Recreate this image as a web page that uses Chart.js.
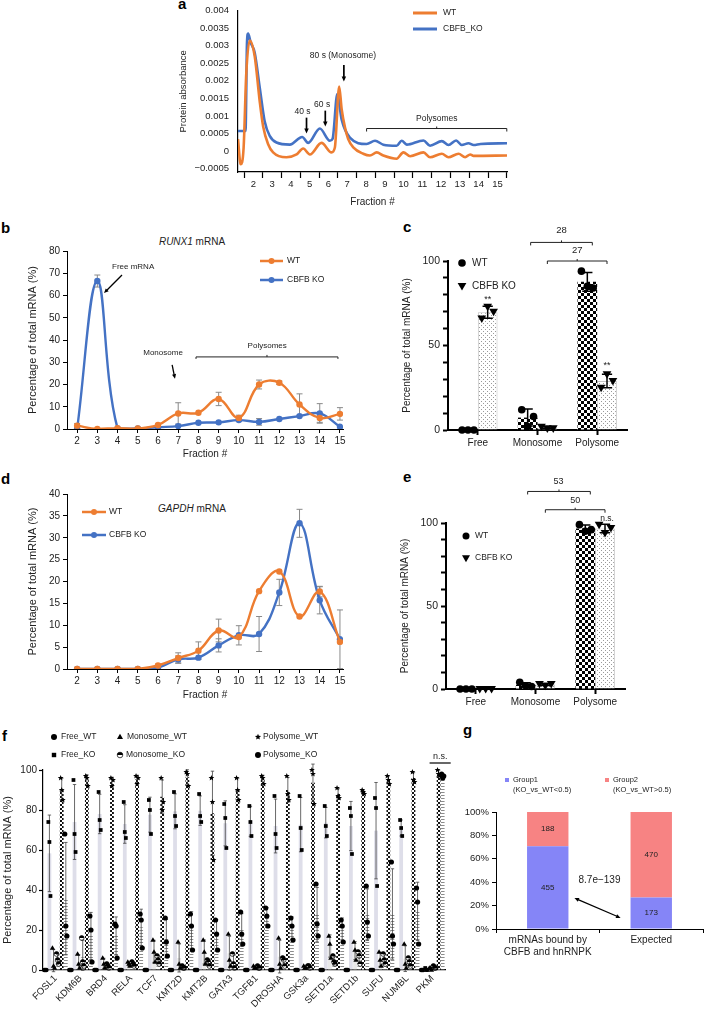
<!DOCTYPE html>
<html>
<head>
<meta charset="utf-8">
<script src="https://cdn.jsdelivr.net/npm/chart.js@4.4.1/dist/chart.umd.min.js"></script>
<style>
html, body { margin: 0; padding: 0; background: #fff; }
#fig { position: relative; width: 704px; height: 1011px; overflow: hidden; font-family: 'Liberation Sans', Arial, sans-serif; color: #222; }
#fig canvas { position: absolute; }
.lbl { position: absolute; font-weight: bold; font-size: 15px; line-height: 15px; color: #000; }
.ttl { position: absolute; width: 140px; font-size: 10px; line-height: 12px; text-align: center; }
</style>
</head>
<body>
<div id="fig">
  <div class="lbl" style="left:178px;top:-4px">a</div>
  <div class="lbl" style="left:1px;top:220px">b</div>
  <div class="lbl" style="left:403px;top:219px">c</div>
  <div class="lbl" style="left:1px;top:471px">d</div>
  <div class="lbl" style="left:403px;top:469px">e</div>
  <div class="lbl" style="left:2px;top:728px">f</div>
  <div class="lbl" style="left:463px;top:722px">g</div>
  <div class="ttl" style="left:122px;top:236px"><i>RUNX1</i> mRNA</div>
  <div class="ttl" style="left:122px;top:503px"><i>GAPDH</i> mRNA</div>
</div>
<script>
// ---- a: polysome profile (fraction #, absorbance) ----
const aWtX = [1.18, 1.32, 1.48, 1.62, 1.80, 2.07, 2.34, 2.52, 2.78, 3.05, 3.76, 4.30, 4.65, 5.01, 5.63, 6.16, 6.34, 6.57, 6.70, 6.88, 7.05, 7.32, 7.85, 8.21, 8.57, 8.92, 9.63, 9.99, 10.35, 11.06, 11.41, 12.04, 12.39, 12.93, 13.28, 13.55, 13.73, 15.51];
const aWtY = [0.00034, -0.00038, 0.0001, 0.0022, 0.00315, 0.0027, 0.0014, 0.0007, 0.0002, -0.00004, -0.00018, -0.0001, 0.00007, -0.0001, 0.00023, -0.00004, 0.0001, 0.00184, 0.0012, 0.00067, 0.00034, 0.0001, -0.00008, -0.00013, -0.00004, -0.00013, -0.00022, -0.00004, -0.00015, -0.00004, -0.00018, -0.00008, -0.00018, -0.00008, -0.00018, -0.0001, -0.00014, -0.00013];
const aKoX = [1.18, 1.58, 1.66, 1.72, 1.85, 2.07, 2.34, 2.60, 2.87, 3.23, 3.94, 4.60, 4.92, 5.54, 6.07, 6.22, 6.47, 6.70, 7.14, 8.03, 8.48, 8.92, 9.63, 9.90, 10.17, 11.06, 11.41, 12.04, 12.39, 12.80, 13.10, 13.46, 13.73, 14.10, 15.51];
const aKoY = [0.00057, 0.00057, 0.0031, 0.00335, 0.0031, 0.0028, 0.0018, 0.00085, 0.00043, 0.00024, 0.00018, 0.0004, 0.00023, 0.00064, 0.00029, 0.00035, 0.00162, 0.0009, 0.00038, 0.0002, 0.00029, 0.00018, 0.00015, 0.00029, 0.00018, 0.0003, 0.00015, 0.00028, 0.00017, 0.0003, 0.00017, 0.00022, 0.00017, 0.0002, 0.00022];
const aFracLabels = [2, 3, 4, 5, 6, 7, 8, 9, 10, 11, 12, 13, 14, 15];
const aFracBounds = [1.5, 2.5, 3.5, 4.5, 5.5, 6.5, 7.5, 8.5, 9.5, 10.5, 11.5, 12.5, 13.5, 14.5, 15.5];
const aYTicks = [-0.0005, 0, 0.0005, 0.001, 0.0015, 0.002, 0.0025, 0.003, 0.0035, 0.004];

// ---- b / d: mRNA per fraction ----
const fractions = [2, 3, 4, 5, 6, 7, 8, 9, 10, 11, 12, 13, 14, 15];
const bWT    = [1.5, 0, 0.4, 0.2, 1.8, 7, 7.3, 13.5, 5, 20, 20.8, 11, 5, 6.8];
const bWTerr = [1, 0, 0, 0, 0.5, 4.8, 0, 3, 1.2, 2, 0.8, 4.8, 2, 2.8];
const bKO    = [0, 66.5, 0.3, 0.2, 0.8, 1.3, 2.8, 3, 4, 3.2, 4.5, 5.8, 7, 1];
const bKOerr = [0, 2.7, 0, 0, 0, 0, 0, 0, 0.5, 1.5, 0, 0, 4.4, 0];
const dWT    = [0, 0, 0, 0, 0.8, 2.5, 4.2, 8.8, 7.3, 17.8, 22.3, 12, 17.7, 6.2];
const dWTerr = [0, 0, 0, 0, 0.3, 1.2, 2, 2.6, 0, 0, 0, 0, 1.2, 0];
const dKO    = [0, 0, 0, 0, 0.3, 2.2, 2.6, 5.4, 7.7, 8, 17.5, 33.3, 15.7, 6.8];
const dKOerr = [0, 0, 0, 0, 0, 0.8, 0, 1.5, 2.2, 4, 3, 3.2, 3.1, 6.7];

// ---- c / e: replicates per compartment ----
const ceCats = ['Free', 'Monosome', 'Polysome'];
const cWTreps = [[0, 0, 0], [12, 2, 8], [94, 85, 84]];
const cKOreps = [[66, 73, 70], [2, 1, 1], [25, 33, 29]];
const eWTreps = [[0, 0, 0], [4, 2, 1.5], [99, 95, 96]];
const eKOreps = [[0, 0, 0], [3, 2, 3], [99, 94, 97]];
const ceYTicks = [0, 10, 20, 30, 40, 50, 60, 70, 80, 90, 100];

// ---- f: per-gene replicates ----
const fGenes = ['FOSL1', 'KDM6B', 'BRD4', 'RELA', 'TCF7', 'KMT2D', 'KMT2B', 'GATA3', 'TGFB1', 'DROSHA', 'GSK3a', 'SETD1a', 'SETD1b', 'SUFU', 'NUMBL', 'PKM'];
const fFreeWT = [[0,0,0],[0,0,0],[0,0,0],[0,0,0],[0,0,0],[0,0,0],[0,0,0],[0,0,0],[0,0,0],[0,0,0],[0,0,0],[0,0,0],[0,0,0],[0,0,0],[0,0,0],[0,0,0]];
const fFreeKO = [[74,64,37],[95,68,59],[89,75,70],[84,69,66],[85,80,68],[89,77,72],[88,77,74],[83,76,61],[82,74,67],[87,68,61],[87,71,60],[82,72,67],[81,77,58],[86,81,42],[75,71,67],[1,0,0]];
const fMonoWT = [[11,2,1],[8,3,1],[6,3,1],[4,3,2],[15,9,4],[14,3,1],[15,9,3],[18,5,2],[2,1,1],[16,3,1],[2,1,1],[17,13,6],[14,10,5],[9,5,2],[13,3,1],[1,1,0]];
const fMonoKO = [[8,5,3],[16,4,2],[3,2,1],[4,3,2],[7,5,3],[2,1,1],[5,4,2],[8,3,1],[2,1,1],[6,5,2],[2,2,1],[7,4,3],[9,7,3],[8,5,3],[6,4,2],[2,1,1]];
const fPolyWT = [[96,90,85],[97,96,92],[96,92,95],[97,93,96],[96,80,84],[99,98,92],[96,84,55],[96,90,85],[97,96,93],[97,88,85],[100,98,83],[91,87,86],[90,89,88],[97,95,93],[99,95,94],[100,98,97]];
const fPolyKO = [[68,22,17],[27,20,4],[23,22,6],[28,25,11],[26,14,7],[28,22,10],[25,18,10],[29,18,13],[31,27,22],[26,22,15],[43,23,17],[25,22,14],[42,24,17],[54,17,13],[41,34,13],[98,96,97]];

// ---- g: counts ----
const gCats = [['mRNAs bound by', 'CBFB and hnRNPK'], 'Expected'];
const gGroup1 = [455, 173];
const gGroup2 = [188, 470];
const gPvalue = '8.7e\u2212139';

const FONT = "'Liberation Sans', Arial, Helvetica, sans-serif";
const ORANGE = '#ed7d31';
const BLUE = '#4472c4';
Chart.defaults.font.family = FONT;
Chart.defaults.color = '#222';
Chart.defaults.animation = false;
Chart.defaults.responsive = false;
Chart.defaults.events = [];
Chart.defaults.plugins.legend.display = false;
Chart.defaults.plugins.tooltip.enabled = false;

const fig = document.getElementById('fig');
function makeCanvas(left, top, w, h) {
  const c = document.createElement('canvas');
  c.width = w; c.height = h;
  c.style.left = left + 'px'; c.style.top = top + 'px';
  c.style.width = w + 'px'; c.style.height = h + 'px';
  fig.appendChild(c);
  return c;
}

const mean = a => a.reduce((s, v) => s + v, 0) / a.length;
const sd = a => { const m = mean(a); return Math.sqrt(a.reduce((s, v) => s + (v - m) * (v - m), 0) / (a.length - 1)); };

function pattern(w, h, draw) {
  const c = document.createElement('canvas');
  c.width = w; c.height = h;
  const g = c.getContext('2d');
  draw(g);
  return g.createPattern(c, 'repeat');
}
const checker = pattern(6, 6, g => { g.fillStyle = '#fff'; g.fillRect(0, 0, 6, 6); g.fillStyle = '#000'; g.fillRect(0, 0, 3, 3); g.fillRect(3, 3, 3, 3); });
const checkerFine = pattern(4, 4, g => { g.fillStyle = '#fff'; g.fillRect(0, 0, 4, 4); g.fillStyle = '#111'; g.fillRect(0, 0, 2, 2); g.fillRect(2, 2, 2, 2); });
const dots = pattern(4, 4, g => { g.fillStyle = '#fff'; g.fillRect(0, 0, 4, 4); g.fillStyle = '#9a9a9a'; g.fillRect(0, 0, 1, 1); g.fillRect(2, 2, 1, 1); });
const stripes = pattern(4, 3, g => { g.fillStyle = '#fff'; g.fillRect(0, 0, 4, 3); g.fillStyle = '#8c8c8c'; g.fillRect(0, 0, 4, 1); });
const stripesLight = pattern(4, 3, g => { g.fillStyle = '#fff'; g.fillRect(0, 0, 4, 3); g.fillStyle = '#b5b5b5'; g.fillRect(0, 0, 4, 1); });

// ---- drawing helpers ----
function txt(ctx, s, x, y, size, align, italic) {
  ctx.save();
  ctx.font = (italic ? 'italic ' : '') + size + 'px ' + FONT;
  ctx.fillStyle = '#222';
  ctx.textAlign = align || 'center';
  ctx.textBaseline = 'middle';
  ctx.fillText(s, x, y);
  ctx.restore();
}
function arrow(ctx, x1, y1, x2, y2, w, head, both) {
  ctx.save();
  ctx.strokeStyle = ctx.fillStyle = '#000';
  ctx.lineWidth = w;
  const a = Math.atan2(y2 - y1, x2 - x1);
  const k = head * 0.8;
  ctx.beginPath();
  ctx.moveTo(x1 + (both ? Math.cos(a) * k : 0), y1 + (both ? Math.sin(a) * k : 0));
  ctx.lineTo(x2 - Math.cos(a) * k, y2 - Math.sin(a) * k);
  ctx.stroke();
  const tip = (x, y, ang) => {
    ctx.beginPath();
    ctx.moveTo(x, y);
    ctx.lineTo(x - head * Math.cos(ang - 0.42), y - head * Math.sin(ang - 0.42));
    ctx.lineTo(x - head * Math.cos(ang + 0.42), y - head * Math.sin(ang + 0.42));
    ctx.closePath();
    ctx.fill();
  };
  tip(x2, y2, a);
  if (both) tip(x1, y1, a + Math.PI);
  ctx.restore();
}
function bracket(ctx, x1, x2, y, down, up) {
  ctx.save();
  ctx.strokeStyle = '#222';
  ctx.lineWidth = 1;
  ctx.beginPath();
  ctx.moveTo(x1, y + down); ctx.lineTo(x1, y); ctx.lineTo(x2, y); ctx.lineTo(x2, y + down);
  if (up) { const m = (x1 + x2) / 2; ctx.moveTo(m, y); ctx.lineTo(m, y - up); }
  ctx.stroke();
  ctx.restore();
}
function marker(ctx, style, x, y, r, color) {
  ctx.save();
  ctx.fillStyle = ctx.strokeStyle = color || '#000';
  ctx.beginPath();
  if (style === 'rect') {
    ctx.rect(x - r * 0.85, y - r * 0.85, r * 1.7, r * 1.7);
    ctx.fill();
  } else if (style === 'triangle') {
    ctx.moveTo(x, y - r); ctx.lineTo(x + r * 0.95, y + r * 0.65); ctx.lineTo(x - r * 0.95, y + r * 0.65); ctx.closePath();
    ctx.fill();
  } else if (style === 'down') {
    ctx.moveTo(x, y + r); ctx.lineTo(x + r * 0.95, y - r * 0.65); ctx.lineTo(x - r * 0.95, y - r * 0.65); ctx.closePath();
    ctx.fill();
  } else if (style === 'star') {
    for (let k = 0; k < 10; k++) {
      const rr = k % 2 ? r * 0.45 : r;
      const ang = -Math.PI / 2 + k * Math.PI / 5;
      ctx.lineTo(x + rr * Math.cos(ang), y + rr * Math.sin(ang));
    }
    ctx.closePath();
    ctx.fill();
  } else if (style === 'half') {
    ctx.arc(x, y, r, Math.PI, 0); ctx.closePath(); ctx.fill();
    ctx.beginPath(); ctx.lineWidth = 0.7; ctx.arc(x, y, r, 0, Math.PI * 2); ctx.stroke();
  } else {
    ctx.arc(x, y, r, 0, Math.PI * 2);
    ctx.fill();
  }
  ctx.restore();
}
function errBar(ctx, x, yTop, yBot, cap, color, w) {
  ctx.save();
  ctx.strokeStyle = color; ctx.lineWidth = w;
  ctx.beginPath();
  ctx.moveTo(x, yTop); ctx.lineTo(x, yBot);
  ctx.moveTo(x - cap, yTop); ctx.lineTo(x + cap, yTop);
  ctx.moveTo(x - cap, yBot); ctx.lineTo(x + cap, yBot);
  ctx.stroke();
  ctx.restore();
}

// legend drawn at page positions (converted to canvas coordinates)
function legendPlugin(items) {
  return {
    id: 'pageLegend',
    afterDraw(chart) {
      const ctx = chart.ctx, ox = chart.canvas.offsetLeft, oy = chart.canvas.offsetTop;
      items.forEach(it => {
        const x = it.x - ox, y = it.y - oy;
        if (it.line) {
          ctx.save(); ctx.strokeStyle = it.color; ctx.lineWidth = it.lw || 2.5;
          ctx.beginPath(); ctx.moveTo(x, y); ctx.lineTo(x + it.line, y); ctx.stroke(); ctx.restore();
          if (it.dot) marker(ctx, 'circle', x + it.line / 2, y, it.dot, it.color);
        }
        if (it.mk) marker(ctx, it.mk, x, y, it.r, it.color || '#000');
        if (it.box) { ctx.save(); ctx.fillStyle = it.color; ctx.fillRect(x - it.box / 2, y - it.box / 2, it.box, it.box); ctx.restore(); }
        (Array.isArray(it.text) ? it.text : [it.text]).forEach((t, k) => txt(ctx, t, it.tx - ox, y + k * (it.size + 2), it.size, 'left'));
      });
    }
  };
}

// error bars for line charts (drawn under the lines)
const lineErr = {
  id: 'lineErr',
  beforeDatasetsDraw(chart) {
    const { ctx, scales: { x, y } } = chart;
    chart.data.datasets.forEach(ds => {
      if (!ds.err) return;
      ds.data.forEach((p, i) => {
        const e = ds.err[i];
        if (!e) return;
        errBar(ctx, x.getPixelForValue(p.x), y.getPixelForValue(p.y + e), y.getPixelForValue(Math.max(p.y - e, 0)), 3, '#8a8a8a', 1);
      });
    });
  }
};

// replicate symbols + SD bars over bar elements
const barReps = {
  id: 'barReps',
  afterDatasetsDraw(chart) {
    const { ctx } = chart;
    const ys = chart.scales.y;
    chart.data.datasets.forEach((ds, di) => {
      if (!ds.reps) return;
      chart.getDatasetMeta(di).data.forEach((el, i) => {
        const r = ds.reps[i], m = mean(r), s = sd(r);
        if (s > 0.01) errBar(ctx, el.x, ys.getPixelForValue(m + s), ys.getPixelForValue(m - s), el.width * ds.capFrac, ds.errColor, ds.errWidth);
        r.forEach((v, k) => marker(ctx, ds.mk, el.x + (k - (r.length - 1) / 2) * el.width * ds.spread, ys.getPixelForValue(v), ds.mr, '#000'));
      });
    });
  }
};

function yAxis(o) {
  const ax = {
    min: o.min, max: o.max,
    ticks: { stepSize: o.step, font: { size: o.font }, color: '#222', padding: o.pad || 3, autoSkip: false, callback: o.cb },
    grid: { drawOnChartArea: false, tickLength: o.tick, tickColor: o.tickColor || '#000', tickWidth: o.bw || 1 },
    border: { color: '#000', width: o.bw || 1 },
    title: o.title ? { display: true, text: o.title, font: { size: o.tfont }, color: '#222', padding: { top: o.tpad, bottom: 0 } } : { display: false },
    afterFit: s => { s.width = o.width; }
  };
  if (o.ticksList) ax.afterBuildTicks = s => { s.ticks = o.ticksList.map(v => ({ value: v })); };
  return ax;
}
const fmtA = v => {
  const s = Math.abs(v).toFixed(4).replace(/0+$/, '').replace(/\.$/, '');
  return v < 0 ? '\u2212' + s : s;
};

// ================= a =================
new Chart(makeCanvas(170, 0, 360, 210), {
  type: 'line',
  data: {
    datasets: [
      { data: aWtX.map((x, i) => ({ x, y: aWtY[i] })), borderColor: ORANGE, borderWidth: 2.6, pointRadius: 0, cubicInterpolationMode: 'monotone' },
      { data: aKoX.map((x, i) => ({ x, y: aKoY[i] })), borderColor: BLUE, borderWidth: 2.6, pointRadius: 0, cubicInterpolationMode: 'monotone' }
    ]
  },
  options: {
    devicePixelRatio: 1,
    layout: { padding: { top: 8, right: 23, left: 0, bottom: 0 } },
    scales: {
      x: {
        type: 'linear', min: 1.18, max: 15.51,
        afterBuildTicks: s => { s.ticks = aFracLabels.concat(aFracBounds).sort((p, q) => p - q).map(v => ({ value: v })); },
        ticks: { autoSkip: false, maxRotation: 0, font: { size: 9.5 }, color: '#222', padding: 1, callback: v => Number.isInteger(v) ? String(v) : '' },
        grid: { drawOnChartArea: false, tickLength: 6, tickWidth: 1.2, tickColor: c => (c.tick && Number.isInteger(c.tick.value)) ? 'rgba(0,0,0,0)' : '#000' },
        border: { color: '#000', width: 1.2 },
        title: { display: true, text: 'Fraction #', font: { size: 10 }, color: '#222', padding: { top: 0, bottom: 2 } },
        afterFit: s => { s.height = 38; }
      },
      y: yAxis({ min: -0.0006, max: 0.004, ticksList: aYTicks, font: 9.5, tick: 4, tickColor: 'rgba(0,0,0,0)', pad: 5, cb: fmtA, title: 'Protein absorbance', tfont: 9.5, tpad: 7.3, width: 68, bw: 1.2 })
    }
  },
  plugins: [
    {
      id: 'annA',
      afterDatasetsDraw(chart) {
        const { ctx, scales: { x, y } } = chart;
        const X = v => x.getPixelForValue(v), Y = v => y.getPixelForValue(v);
        txt(ctx, '80 s (Monosome)', X(6.77), Y(0.00271), 8.5);
        arrow(ctx, X(6.82), Y(0.00245), X(6.82), Y(0.00198), 1.7, 5.5);
        txt(ctx, '40 s', X(4.62), Y(0.00113), 8.5);
        arrow(ctx, X(4.83), Y(0.00095), X(4.83), Y(0.0005), 1.7, 5.5);
        txt(ctx, '60 s', X(5.66), Y(0.00132), 8.5);
        arrow(ctx, X(5.83), Y(0.00115), X(5.83), Y(0.0007), 1.7, 5.5);
        txt(ctx, 'Polysomes', X(11.77), Y(0.00091), 8.5);
        bracket(ctx, X(8.03), X(15.5), Y(0.00064), 3, 2);
      }
    },
    legendPlugin([
      { x: 413, y: 13, line: 24, color: ORANGE, lw: 3, text: 'WT', tx: 443, size: 8.5 },
      { x: 413, y: 29, line: 24, color: BLUE, lw: 3, text: 'CBFB_KO', tx: 443, size: 8.5 }
    ])
  ]
});

// ================= b / d =================
function fractionChart(canvas, wt, wtErr, ko, koErr, yMax, yStep, padTop, xHeight, ann, legendItems) {
  return new Chart(canvas, {
    type: 'line',
    data: {
      datasets: [
        { data: fractions.map((x, i) => ({ x, y: wt[i] })), err: wtErr, borderColor: ORANGE, backgroundColor: ORANGE, borderWidth: 2.4, pointRadius: 3.2, pointBorderWidth: 0, tension: 0.4 },
        { data: fractions.map((x, i) => ({ x, y: ko[i] })), err: koErr, borderColor: BLUE, backgroundColor: BLUE, borderWidth: 2.4, pointRadius: 3.2, pointBorderWidth: 0, tension: 0.4 }
      ]
    },
    options: {
      devicePixelRatio: 1,
      layout: { padding: { top: padTop, right: 19, left: 0, bottom: 0 } },
      scales: {
        x: {
          type: 'linear', min: 1.5, max: 15.15,
          afterBuildTicks: s => { s.ticks = fractions.map(v => ({ value: v })); },
          ticks: { autoSkip: false, maxRotation: 0, font: { size: 10 }, color: '#222', padding: 2 },
          grid: { drawOnChartArea: false, tickLength: 4, tickColor: '#000' },
          border: { color: '#000', width: 1 },
          title: { display: true, text: 'Fraction #', font: { size: 10 }, color: '#222', padding: { top: 0, bottom: 2 } },
          afterFit: s => { s.height = xHeight; }
        },
        y: yAxis({ min: 0, max: yMax, step: yStep, font: 10, tick: 4, pad: 3, title: 'Percentage of total mRNA (%)', tfont: 11, tpad: 4.4, width: 45 })
      }
    },
    plugins: [lineErr, ann, legendPlugin(legendItems)]
  });
}

fractionChart(makeCanvas(22, 230, 340, 232), bWT, bWTerr, bKO, bKOerr, 80, 10, 21, 33, {
  id: 'annB',
  afterDatasetsDraw(chart) {
    const { ctx, scales: { x, y } } = chart;
    const X = v => x.getPixelForValue(v), Y = v => y.getPixelForValue(v);
    txt(ctx, 'Free mRNA', X(4.77), Y(72.8), 8);
    arrow(ctx, X(4.22), Y(69.2), X(3.33), Y(61.1), 1.3, 5);
    txt(ctx, 'Monosome', X(6.25), Y(34.2), 8);
    arrow(ctx, X(6.7), Y(28.8), X(6.84), Y(22.6), 1.3, 5);
    txt(ctx, 'Polysomes', X(11.4), Y(37.6), 8);
    bracket(ctx, X(7.88), X(14.9), Y(32.4), 2, 2);
  }
}, [
  { x: 260, y: 261, line: 23, dot: 3, color: ORANGE, text: 'WT', tx: 287, size: 8.5 },
  { x: 260, y: 280, line: 23, dot: 3, color: BLUE, text: 'CBFB KO', tx: 287, size: 8.5 }
]);

fractionChart(makeCanvas(22, 470, 340, 233), dWT, dWTerr, dKO, dKOerr, 40, 5, 24, 34, { id: 'annD' }, [
  { x: 82, y: 512, line: 24, dot: 3, color: ORANGE, text: 'WT', tx: 109, size: 8.5 },
  { x: 82, y: 535, line: 24, dot: 3, color: BLUE, text: 'CBFB KO', tx: 109, size: 8.5 }
]);

// ================= c / e =================
function compChart(canvas, wtReps, koReps, padTop, xHeight, ann, legendItems) {
  return new Chart(canvas, {
    type: 'bar',
    data: {
      labels: ceCats,
      datasets: [
        { data: wtReps.map(mean), reps: wtReps, backgroundColor: checker, borderWidth: 0, mk: 'circle', mr: 3.8, spread: 0.3, capFrac: 0.26, errColor: '#000', errWidth: 1.5 },
        { data: koReps.map(mean), reps: koReps, backgroundColor: dots, borderColor: '#c4c4c4', borderWidth: 1, mk: 'down', mr: 4.6, spread: 0.3, capFrac: 0.26, errColor: '#000', errWidth: 1.5 }
      ]
    },
    options: {
      devicePixelRatio: 1,
      layout: { padding: { top: padTop, right: 18, left: 0, bottom: 0 } },
      datasets: { bar: { categoryPercentage: 0.66, barPercentage: 1 } },
      scales: {
        x: {
          ticks: { font: { size: 10 }, color: '#222', padding: 2, maxRotation: 0, autoSkip: false },
          grid: { drawOnChartArea: false, offset: false, tickLength: 5, tickWidth: 2, tickColor: '#000' },
          border: { color: '#000', width: 2 },
          afterFit: s => { s.height = xHeight; }
        },
        y: yAxis({ min: 0, max: 100, ticksList: ceYTicks, font: 10.5, tick: 5, pad: 3, bw: 2, cb: v => (v % 50 === 0 ? String(v) : ''), title: 'Percentage of total mRNA (%)', tfont: 10, tpad: 6, width: 53 })
      }
    },
    plugins: [barReps, ann, legendPlugin(legendItems)]
  });
}

compChart(makeCanvas(395, 215, 250, 240), cWTreps, cKOreps, 46, 25, {
  id: 'annC',
  afterDatasetsDraw(chart) {
    const { ctx } = chart, ys = chart.scales.y;
    const wt = chart.getDatasetMeta(0).data, ko = chart.getDatasetMeta(1).data;
    bracket(ctx, wt[1].x + 3, wt[2].x + 5, ys.getPixelForValue(111), 3, 2);
    txt(ctx, '28', (wt[1].x + wt[2].x) / 2 + 4, ys.getPixelForValue(118), 9.5);
    bracket(ctx, ko[1].x, ko[2].x, ys.getPixelForValue(100), 3, 2);
    txt(ctx, '27', (ko[1].x + ko[2].x) / 2, ys.getPixelForValue(106), 9.5);
    txt(ctx, '**', ko[0].x, ys.getPixelForValue(77.5), 9);
    txt(ctx, '**', ko[2].x, ys.getPixelForValue(38), 9);
  }
}, [
  { x: 462, y: 263, mk: 'circle', r: 3.8, text: 'WT', tx: 472, size: 10 },
  { x: 462, y: 286, mk: 'down', r: 4.6, text: 'CBFB KO', tx: 472, size: 10 }
]);

compChart(makeCanvas(393, 470, 250, 246), eWTreps, eKOreps, 53, 27, {
  id: 'annE',
  afterDatasetsDraw(chart) {
    const { ctx } = chart, ys = chart.scales.y;
    const wt = chart.getDatasetMeta(0).data, ko = chart.getDatasetMeta(1).data;
    bracket(ctx, wt[1].x + 2, wt[2].x + 5, ys.getPixelForValue(119), 3, 2);
    txt(ctx, '53', (wt[1].x + wt[2].x) / 2 + 3, ys.getPixelForValue(125), 9);
    bracket(ctx, ko[1].x, ko[2].x, ys.getPixelForValue(108), 3, 2);
    txt(ctx, '50', (ko[1].x + ko[2].x) / 2, ys.getPixelForValue(113.5), 9);
    txt(ctx, 'n.s.', ko[2].x + 2, ys.getPixelForValue(102.5), 8.5);
  }
}, [
  { x: 466, y: 536, mk: 'circle', r: 3.5, text: 'WT', tx: 475, size: 8.5 },
  { x: 466, y: 558, mk: 'down', r: 4.2, text: 'CBFB KO', tx: 475, size: 8.5 }
]);

// ================= f =================
const fStyle = { capFrac: 0.45, errColor: '#444', errWidth: 0.8, spread: 0.28, borderWidth: 0 };
new Chart(makeCanvas(0, 720, 460, 291), {
  type: 'bar',
  data: {
    labels: fGenes,
    datasets: [
      Object.assign({ data: fFreeWT.map(mean), reps: fFreeWT, backgroundColor: '#f0f0f4', mk: 'circle', mr: 2.3 }, fStyle),
      Object.assign({ data: fFreeKO.map(mean), reps: fFreeKO, backgroundColor: '#dedee9', mk: 'rect', mr: 2.2 }, fStyle),
      Object.assign({ data: fMonoWT.map(mean), reps: fMonoWT, backgroundColor: '#e8e8e8', mk: 'triangle', mr: 2.8 }, fStyle),
      Object.assign({ data: fMonoKO.map(mean), reps: fMonoKO, backgroundColor: stripesLight, mk: 'half', mr: 2.4 }, fStyle),
      Object.assign({ data: fPolyWT.map(mean), reps: fPolyWT, backgroundColor: checkerFine, mk: 'star', mr: 3 }, fStyle),
      Object.assign({ data: fPolyKO.map(mean), reps: fPolyKO, backgroundColor: stripes, mk: 'circle', mr: 2.6 }, fStyle)
    ]
  },
  options: {
    devicePixelRatio: 1,
    layout: { padding: { top: 50, right: 15, left: 0, bottom: 0 } },
    datasets: { bar: { categoryPercentage: 0.98, barPercentage: 0.92 } },
    scales: {
      x: {
        ticks: { font: { size: 9.5 }, color: '#222', padding: 1, minRotation: 45, maxRotation: 45, autoSkip: false },
        grid: { drawOnChartArea: false, tickLength: 2, tickColor: 'rgba(0,0,0,0)' },
        border: { color: '#000', width: 1.2 },
        afterFit: s => { s.height = 41; }
      },
      y: yAxis({ min: 0, max: 100, step: 20, font: 10, tick: 4, pad: 2, bw: 1.2, title: 'Percentage of total mRNA (%)', tfont: 11, tpad: 1.4, width: 43 })
    }
  },
  plugins: [
    barReps,
    {
      id: 'annF',
      afterDatasetsDraw(chart) {
        const { ctx } = chart, ys = chart.scales.y;
        const pw = chart.getDatasetMeta(4).data[15], pk = chart.getDatasetMeta(5).data[15];
        const x1 = pw.x - 9, x2 = pk.x + 8;
        txt(ctx, 'n.s.', (x1 + x2) / 2, ys.getPixelForValue(106.5), 9);
        ctx.save(); ctx.strokeStyle = '#000'; ctx.lineWidth = 1.2;
        ctx.beginPath(); ctx.moveTo(x1, ys.getPixelForValue(103.5)); ctx.lineTo(x2, ys.getPixelForValue(103.5)); ctx.stroke();
        ctx.restore();
      }
    },
    legendPlugin([
      { x: 54, y: 737, mk: 'circle', r: 3, text: 'Free_WT', tx: 61, size: 8.5 },
      { x: 54, y: 755, mk: 'rect', r: 2.6, text: 'Free_KO', tx: 61, size: 8.5 },
      { x: 120, y: 737, mk: 'triangle', r: 3.2, text: 'Monosome_WT', tx: 127, size: 8.5 },
      { x: 120, y: 755, mk: 'half', r: 2.8, text: 'Monosome_KO', tx: 126, size: 8.5 },
      { x: 258, y: 737, mk: 'star', r: 3.2, text: 'Polysome_WT', tx: 263, size: 8.5 },
      { x: 258, y: 755, mk: 'circle', r: 3, text: 'Polysome_KO', tx: 263, size: 8.5 }
    ])
  ]
});

// ================= g =================
const gTotals = gGroup1.map((v, i) => v + gGroup2[i]);
const GBLUE = '#8585f7', GRED = '#f78383';
new Chart(makeCanvas(462, 770, 242, 195), {
  type: 'bar',
  data: {
    labels: gCats,
    datasets: [
      { data: gGroup1.map((v, i) => v / gTotals[i] * 100), counts: gGroup1, backgroundColor: GBLUE, borderWidth: 0 },
      { data: gGroup2.map((v, i) => v / gTotals[i] * 100), counts: gGroup2, backgroundColor: GRED, borderWidth: 0 }
    ]
  },
  options: {
    devicePixelRatio: 1,
    layout: { padding: { top: 42, right: 1, left: 0, bottom: 0 } },
    datasets: { bar: { categoryPercentage: 0.8, barPercentage: 0.5 } },
    scales: {
      x: {
        stacked: true,
        ticks: { font: { size: 10 }, color: '#222', padding: 1, maxRotation: 0, autoSkip: false },
        grid: { drawOnChartArea: false, tickLength: 4, tickColor: '#000' },
        border: { color: '#000', width: 1 },
        afterFit: s => { s.height = 36; }
      },
      y: Object.assign(yAxis({ min: 0, max: 100, step: 20, font: 9.5, tick: 4, pad: 3, cb: v => v + '%', width: 34 }), { stacked: true })
    }
  },
  plugins: [
    {
      id: 'annG',
      afterDatasetsDraw(chart) {
        const { ctx } = chart, ys = chart.scales.y;
        chart.data.datasets.forEach((ds, di) => {
          chart.getDatasetMeta(di).data.forEach((el, i) => {
            txt(ctx, String(ds.counts[i]), el.x, (el.y + el.base) / 2, 8);
          });
        });
        const b1 = chart.getDatasetMeta(0).data[0], b2 = chart.getDatasetMeta(0).data[1];
        txt(ctx, gPvalue, (b1.x + b2.x) / 2, ys.getPixelForValue(42), 10);
        arrow(ctx, b1.x + b1.width / 2 + 6, ys.getPixelForValue(26.5), b2.x - b2.width / 2 - 10, ys.getPixelForValue(9.5), 1.2, 5, true);
      }
    },
    legendPlugin([
      { x: 507, y: 780, box: 4, color: GBLUE, text: ['Group1', '(KO_vs_WT<0.5)'], tx: 513, size: 7.5 },
      { x: 607, y: 780, box: 4, color: GRED, text: ['Group2', '(KO_vs_WT>0.5)'], tx: 613, size: 7.5 }
    ])
  ]
});
</script>
</body>
</html>
